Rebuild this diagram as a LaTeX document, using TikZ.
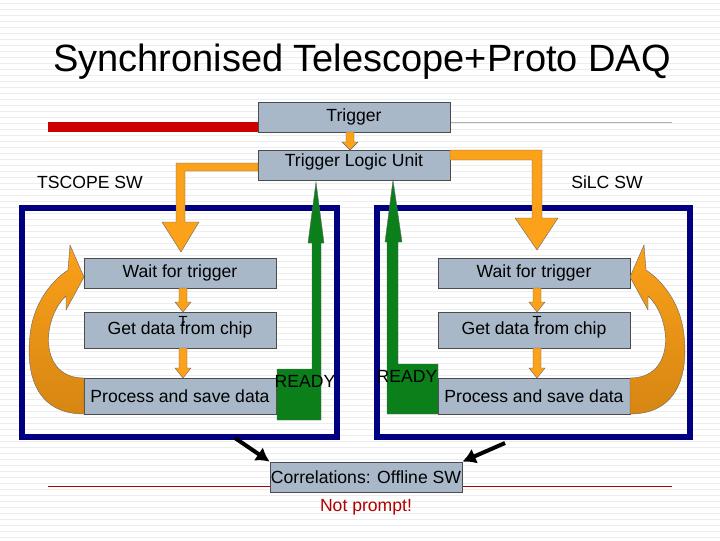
\documentclass[tikz,border=0pt]{standalone}
\usepackage{fontspec}
\setmainfont{Liberation Sans}
\usetikzlibrary{arrows.meta}
\definecolor{boxg}{HTML}{A9B8C8}
\definecolor{orA}{HTML}{FBA11A}
\definecolor{orB}{HTML}{D68612}
\definecolor{gr}{HTML}{0A7F1A}
\definecolor{navy}{HTML}{000080}
\definecolor{dred}{HTML}{B00000}
\begin{document}
\begin{tikzpicture}[x=0.75pt,y=-0.75pt,
  box/.style={draw=black!70,fill=boxg,line width=0.6pt,inner sep=0pt,font=\fontsize{13.2}{15}\selectfont},
  orf/.style={fill=orA,draw=black!60,line width=0.3pt},
  grf/.style={fill=gr,draw=black!60,line width=0.3pt},
  frame/.style={draw=navy,line width=4.5pt},
  lbl/.style={font=\fontsize{13.2}{15}\selectfont,inner sep=0pt}]
\useasboundingbox (0,0) rectangle (720,540);
\fill[white] (0,0) rectangle (720,540);
\foreach \y in {3,9,...,537} \draw[black!7,line width=0.4pt] (0,\y)--(720,\y);
\node[font=\fontsize{28.5}{32}\selectfont] (title) at (362,62) {Synchronised Telescope+Proto DAQ};
% red / gray lines
\draw[red!80!black,line width=7pt] (48,127)--(258,127);
\draw[black!30,line width=0.5pt] (450,122)--(672,122);
\draw[red!70!black,line width=0.5pt] (48,486)--(270,486);
\draw[red!70!black,line width=0.5pt] (462,486)--(672,486);
% frames
\draw[frame] (22,208) rectangle (337,437);
\draw[frame] (377,208) rectangle (690,437);
% boxes
\node[box,minimum width=144pt,minimum height=22.5pt] (trig) at (354,117) {Trigger};
\node[box,minimum width=144pt,minimum height=22.5pt,text depth=7pt] (tlu) at (354,165) {Trigger Logic Unit};
\node[box,minimum width=144pt,minimum height=22.5pt] (w1) at (180,273) {Wait for trigger};
\node[box,minimum width=144pt,minimum height=27pt] (g1) at (180,330) {Get data from chip};
\node[box,minimum width=144pt,minimum height=27pt] (p1) at (180,396) {Process and save data};
\node[box,minimum width=144pt,minimum height=22.5pt] (w2) at (534,273) {Wait for trigger};
\node[box,minimum width=144pt,minimum height=27pt] (g2) at (534,330) {Get data from chip};
\node[box,minimum width=144pt,minimum height=27pt] (p2) at (534,396) {Process and save data};
\node[box,minimum width=144pt,minimum height=22.5pt] (corr) at (366,477) {Correlations: Offline SW};
\node[lbl] (ts) at (90,182) {TSCOPE SW};
\node[lbl] (si) at (607,182) {SiLC SW};
\node[lbl,text=dred] (np) at (366,507) {Not prompt!};
% small orange arrows
\filldraw[orf] (346,132)--(354,132)--(354,142)--(358,142)--(350,150)--(342,142)--(346,142)--cycle;
\foreach \x in {183,537}{
 \filldraw[orf] (\x-4,288)--(\x+4,288)--(\x+4,302)--(\x+8,302)--(\x,312)--(\x-8,302)--(\x-4,302)--cycle;
 \filldraw[orf] (\x-4,348)--(\x+4,348)--(\x+4,368)--(\x+8,368)--(\x,378)--(\x-8,368)--(\x-4,368)--cycle;
 \node[font=\fontsize{11}{12}\selectfont,inner sep=0pt] at (\x,321) {T};
}
% big orange arrows
\filldraw[orf] (258,163)--(176,163)--(176,222)--(162,222)--(181,252)--(199,222)--(185,222)--(185,171)--(258,171)--cycle;
\filldraw[orf] (450,150)--(542,150)--(542,218)--(558,218)--(537,250)--(515,218)--(532,218)--(532,160)--(450,160)--cycle;
% curved arrows
\shade[top color=orA,bottom color=orB,draw=black!60,line width=0.3pt]
 (84,414) .. controls (40,414) and (25,380) .. (30,335) .. controls (33,305) and (50,282) .. (68,270) -- (70,245) -- (84,277) -- (66,310) -- (66,296) .. controls (42,318) and (38,378) .. (84,378) -- cycle;
\shade[top color=orA,bottom color=orB,draw=black!60,line width=0.3pt]
 (630,414) .. controls (674,414) and (689,380) .. (684,335) .. controls (681,305) and (664,282) .. (646,270) -- (644,245) -- (630,277) -- (648,310) -- (648,296) .. controls (672,318) and (676,378) .. (630,378) -- cycle;
% green
\filldraw[grf] (277,369)--(312,369)--(312,243)--(308,243)--(316,182)--(324,243)--(321,243)--(321,420)--(277,420)--cycle;
\filldraw[grf] (438,364)--(398,364)--(398,242)--(402,242)--(393,180)--(385,242)--(387,242)--(387,414)--(438,414)--cycle;
\node[lbl] (r1) at (305,381) {READY};
\node[lbl] (r2) at (407,376) {READY};
% black arrows
\coordinate (a1) at (235,438); \coordinate (a2) at (505,443);
\draw[line width=3pt,-{Latex[length=10pt,width=12pt]}] (a1)--(corr.north west);
\draw[line width=3pt,-{Latex[length=10pt,width=12pt]}] (a2)--(corr.north east);
\end{tikzpicture}
\end{document}
